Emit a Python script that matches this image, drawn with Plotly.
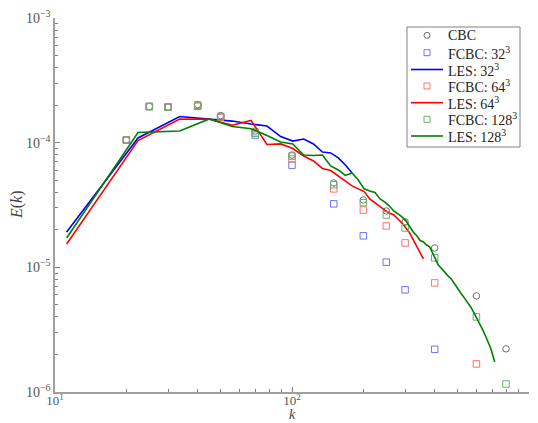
import plotly.graph_objects as go

# ---------------- data ----------------
k_exp = [20, 25, 30, 40, 50, 70, 100, 150, 200, 250, 300, 400, 600, 800]
E_cbc = [1.05e-4, 1.95e-4, 1.93e-4, 2.02e-4, 1.65e-4, 1.24e-4, 7.96e-5, 4.75e-5,
         3.47e-5, 2.83e-5, 2.31e-5, 1.43e-5, 5.9e-6, 2.22e-6]

k_f32 = [20, 25, 30, 40, 50, 70, 100, 150, 200, 250, 300, 400]
E_f32 = [1.05e-4, 1.95e-4, 1.93e-4, 1.96e-4, 1.60e-4, 1.15e-4, 6.6e-5, 3.23e-5,
         1.79e-5, 1.10e-5, 6.6e-6, 2.2e-6]

k_f64 = [20, 25, 30, 40, 50, 70, 100, 150, 200, 250, 300, 400, 600]
E_f64 = [1.05e-4, 1.95e-4, 1.93e-4, 1.98e-4, 1.60e-4, 1.20e-4, 7.4e-5, 4.26e-5,
         2.88e-5, 2.15e-5, 1.57e-5, 7.5e-6, 1.68e-6]

k_f128 = [20, 25, 30, 40, 50, 70, 100, 150, 200, 250, 300, 400, 600, 800]
E_f128 = [1.05e-4, 1.95e-4, 1.93e-4, 2.00e-4, 1.62e-4, 1.19e-4, 7.8e-5, 4.6e-5,
          3.3e-5, 2.63e-5, 2.07e-5, 1.19e-5, 4.0e-6, 1.16e-6]

k_les = [11.2, 22.4, 33.6, 44.8, 56.0, 67.2, 78.4, 89.6, 100.8, 112.0,
         123.2, 134.4, 145.6, 156.8, 168.0, 179.2, 190.4, 201.6, 212.8, 224.0,
         235.2, 246.4, 257.6, 268.8, 280.0, 291.2, 302.4, 313.6, 324.8, 336.0,
         347.2, 358.4, 369.6, 380.8, 392.0, 403.2, 414.4, 425.6, 436.8, 448.0,
         459.2, 470.4, 481.6, 492.8, 504.0, 515.2, 526.4, 537.6, 548.8, 560.0,
         571.2, 582.4, 593.6, 604.8, 616.0, 627.2, 638.4, 649.6, 660.8, 672.0,
         683.2, 694.4, 705.6, 716.8]

E_les32 = [1.92e-5, 1.09e-4, 1.62e-4, 1.55e-4, 1.49e-4, 1.41e-4, 1.36e-4, 1.12e-4,
           1.03e-4, 1.07e-4, 9.77e-5, 8.42e-5, 8.27e-5, 7.54e-5, 6.62e-5, 5.71e-5]

E_les64 = [1.54e-5, 1.04e-4, 1.55e-4, 1.54e-4, 1.38e-4, 1.507e-4, 9.68e-5, 9.77e-5,
           8.98e-5, 7.82e-5, 7.13e-5, 6.21e-5, 5.98e-5, 5.41e-5, 4.93e-5, 4.50e-5,
           4.26e-5, 4.05e-5, 3.54e-5, 3.28e-5, 3.05e-5, 2.88e-5, 2.73e-5, 2.63e-5,
           2.44e-5, 2.27e-5, 2.07e-5, 1.89e-5, 1.66e-5, 1.46e-5, 1.30e-5, 1.17e-5]

E_les128 = [1.72e-5, 1.207e-4, 1.24e-4, 1.55e-4, 1.35e-4, 1.295e-4, 1.142e-4, 1.013e-4,
            9.77e-5, 7.96e-5, 7.89e-5, 7.96e-5, 6.50e-5, 6.04e-5, 5.46e-5, 5.71e-5,
            5.02e-5, 4.26e-5, 4.10e-5, 3.99e-5, 3.54e-5, 3.34e-5, 3.10e-5, 2.83e-5,
            2.68e-5, 2.54e-5, 2.36e-5, 2.11e-5, 1.92e-5, 1.79e-5, 1.64e-5, 1.60e-5,
            1.51e-5, 1.46e-5, 1.30e-5, 1.15e-5, 1.045e-5, 9.89e-6, 9.35e-6, 8.69e-6,
            8.38e-6, 8.07e-6, 7.50e-6, 6.97e-6, 6.59e-6, 6.23e-6, 5.90e-6, 5.58e-6,
            5.28e-6, 4.99e-6, 4.72e-6, 4.39e-6, 4.15e-6, 3.85e-6, 3.58e-6, 3.39e-6,
            3.15e-6, 2.92e-6, 2.72e-6, 2.52e-6, 2.34e-6, 2.14e-6, 1.95e-6, 1.74e-6]

x_ticks = [10, 100, 1000]
x_ticktext = ["10<sup>1</sup>", "10<sup>2</sup>", "10<sup>3</sup>"]
y_ticks = [1e-6, 1e-5, 1e-4, 1e-3]
y_ticktext = ["10<sup>−6</sup>", "10<sup>−5</sup>", "10<sup>−4</sup>", "10<sup>−3</sup>"]

series_names = ["CBC", "FCBC: 32<sup>3</sup>", "LES: 32<sup>3</sup>", "FCBC: 64<sup>3</sup>",
                "LES: 64<sup>3</sup>", "FCBC: 128<sup>3</sup>", "LES: 128<sup>3</sup>"]

# ---------------- figure ----------------
FONT = "Liberation Serif"
W, H = 538, 423
ML, MR, MT, MB = 55, 9, 18, 31
PW, PH = W - ML - MR, H - MT - MB

def px(xp):   # pixel -> paper x
    return (xp - ML) / PW

def py(yp):   # pixel -> paper y
    return (H - MB - yp) / PH

fig = go.Figure()

styles = [
    ("markers", "circle-open", "#707070"),
    ("markers", "square-open", "#7070ff"),
    ("lines", None, "#0000ff"),
    ("markers", "square-open", "#ff7070"),
    ("lines", None, "#ff0000"),
    ("markers", "square-open", "#66b366"),
    ("lines", None, "#008000"),
]
datasets = [
    (k_exp, E_cbc),
    (k_f32, E_f32),
    (k_les[:len(E_les32)], E_les32),
    (k_f64, E_f64),
    (k_les[:len(E_les64)], E_les64),
    (k_f128, E_f128),
    (k_les[:len(E_les128)], E_les128),
]

for (x, y), (mode, sym, col), name in zip(datasets, styles, series_names):
    if mode == "markers":
        fig.add_trace(go.Scatter(x=x, y=y, mode="markers", name=name, showlegend=False,
                                 marker=dict(symbol=sym, size=6.5, color=col,
                                             line=dict(color=col, width=1))))
    else:
        fig.add_trace(go.Scatter(x=x, y=y, mode="lines", name=name, showlegend=False,
                                 line=dict(color=col, width=1.6)))

axis_common = dict(type="log", showgrid=False, zeroline=False, showline=True,
                   linecolor="#a0a0a0", linewidth=1.5, ticks="inside", ticklen=5,
                   tickcolor="#808080", tickwidth=1, automargin=False,
                   tickfont=dict(family=FONT, size=14, color="#555555"))

x_minor = [v * m for v in (10, 100) for m in range(2, 10)]
y_minor = [v * m for v in (1e-6, 1e-5, 1e-4) for m in range(2, 10)]

fig.update_xaxes(**axis_common, range=[1, 3], tickvals=x_ticks, ticktext=x_ticktext,
                 minor=dict(tickvals=x_minor, ticks="inside", ticklen=3,
                            tickcolor="#808080", showgrid=False))
fig.update_xaxes(tickfont=dict(family=FONT, size=13, color="#555555"), ticklabelstandoff=-4)
fig.update_yaxes(**axis_common, range=[-6, -3], tickvals=y_ticks, ticktext=y_ticktext,
                 minor=dict(tickvals=y_minor, ticks="inside", ticklen=3,
                            tickcolor="#808080", showgrid=False))

annotations = [
    dict(text="<i>k</i>", x=0.5, y=py(423), xref="paper", yref="paper",
         xanchor="center", yanchor="bottom", showarrow=False, borderpad=0,
         font=dict(family=FONT, size=14, color="#444444")),
    dict(text="<i>E</i>(<i>k</i>)", x=px(17), y=py(205), xref="paper", yref="paper",
         xanchor="center", yanchor="middle", showarrow=False, textangle=-90,
         font=dict(family=FONT, size=16, color="#444444")),
]

# ---- hand-built legend (matches the reference's compact spacing) ----
shapes = [dict(type="rect", xref="paper", yref="paper",
               x0=px(407), x1=px(520), y0=py(147), y1=py(27),
               line=dict(color="#808080", width=1), fillcolor="white", layer="above")]
row_y = [35.3, 52.7, 69.5, 86.0, 102.7, 119.3, 136.0]
sym_x = 427
for yrow, (mode, sym, col), name in zip(row_y, styles, series_names):
    annotations.append(dict(text=name, x=px(446), y=py(yrow), xref="paper", yref="paper",
                            xanchor="left", yanchor="middle", showarrow=False,
                            font=dict(family=FONT, size=14, color="#222222")))
    if mode == "lines":
        shapes.append(dict(type="line", xref="paper", yref="paper",
                           x0=px(411), x1=px(443), y0=py(yrow), y1=py(yrow),
                           line=dict(color=col, width=1.6), layer="above"))
    else:
        shapes.append(dict(type="circle" if sym.startswith("circle") else "rect",
                           xref="paper", yref="paper",
                           xsizemode="pixel", ysizemode="pixel",
                           xanchor=px(sym_x), yanchor=py(yrow),
                           x0=-3, x1=3, y0=-3, y1=3,
                           line=dict(color=col, width=1), layer="above"))

fig.update_layout(
    width=W, height=H,
    margin=dict(l=ML, r=MR, t=MT, b=MB),
    paper_bgcolor="white", plot_bgcolor="white",
    font=dict(family=FONT, color="#222222"),
    showlegend=False,
    annotations=annotations,
    shapes=shapes,
)

fig.write_html("out.html")
